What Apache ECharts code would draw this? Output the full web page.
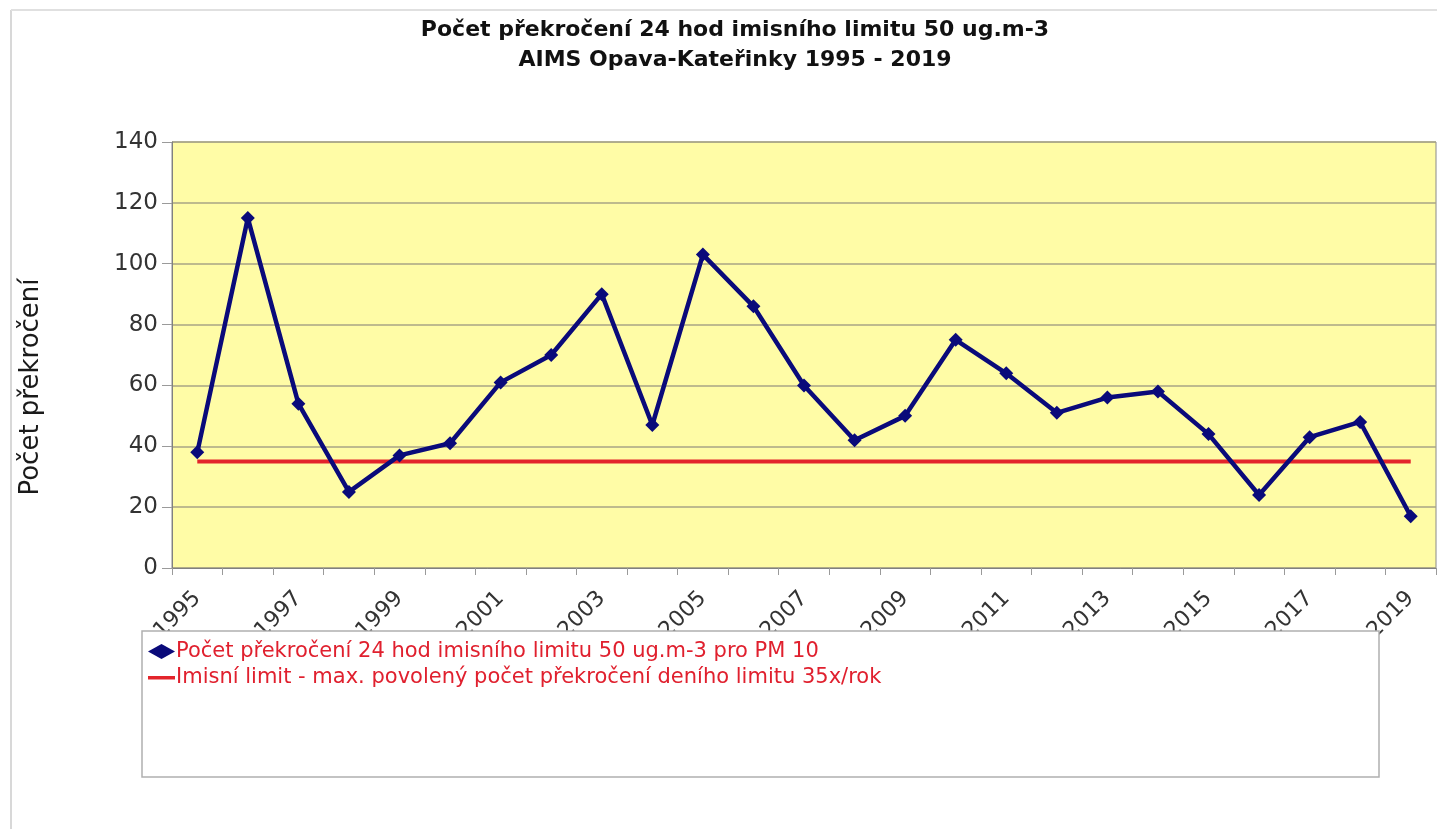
<!DOCTYPE html>
<html>
<head>
<meta charset="utf-8">
<script src="https://cdn.jsdelivr.net/npm/echarts@6/dist/echarts.min.js"></script>
<style>html,body{margin:0;padding:0;background:#fff}#c{width:1437px;height:829px}</style>
</head>
<body>
<div id="c"></div>
<script>
const titleText = 'Počet překročení 24 hod imisního limitu 50 ug.m-3\nAIMS Opava-Kateřinky 1995 - 2019';
const yAxisName = 'Počet překročení';
const years = ['1995','1996','1997','1998','1999','2000','2001','2002','2003','2004','2005','2006','2007','2008','2009','2010','2011','2012','2013','2014','2015','2016','2017','2018','2019'];
const exceedances = [38,115,54,25,37,41,61,70,90,47,103,86,60,42,50,75,64,51,56,58,44,24,43,48,17];
const limitValue = 35;
const limit = years.map(() => limitValue);
const seriesNames = ['Počet překročení 24 hod imisního limitu 50 ug.m-3 pro PM 10', 'Imisní limit - max. povolený počet překročení deního limitu 35x/rok'];

const chart = echarts.init(document.getElementById('c'));
const font = 'DejaVu Sans, Liberation Sans, Arial, sans-serif';
chart.setOption({
  animation: false,
  backgroundColor: '#fff',
  textStyle: { fontFamily: font },
  title: {
    text: titleText,
    left: 730, top: 10, textAlign: 'center',
    textStyle: { fontFamily: font, fontWeight: 'bold', fontSize: 22, lineHeight: 30, color: '#111' }
  },
  grid: { left: 172, right: 1, top: 142, bottom: 261, show: true, backgroundColor: '#fffca6', borderColor: '#8a8a8a', borderWidth: 1 },
  graphic: [
    { type: 'line', z: 1, shape: { x1: 11, y1: 10, x2: 11, y2: 829 }, style: { stroke: '#d8d8d8', lineWidth: 2 } },
    { type: 'line', z: 1, shape: { x1: 11, y1: 10, x2: 1437, y2: 10 }, style: { stroke: '#e0e0e0', lineWidth: 2 } },
    { type: 'rect', z: 50, shape: { x: 142, y: 631, width: 1237, height: 146 }, style: { fill: '#fff', stroke: '#b0b0b0', lineWidth: 1.5 } }
  ],
  legend: {
    z: 60,
    orient: 'vertical',
    left: 143, top: 636,
    itemWidth: 27, itemHeight: 15, itemGap: 5,
    textStyle: { color: '#e0202e', fontSize: 21, fontFamily: font, padding: [0,0,0,-4] },
    data: [
      { name: seriesNames[0], icon: 'diamond' },
      { name: seriesNames[1], icon: 'path://M0,0 L27,0 L27,0.001 Z M0,6 L27,6 L27,9.5 L0,9.5 Z M0,15 L27,15 L27,15.001 Z' }
    ]
  },
  xAxis: {
    type: 'category',
    data: years,
    boundaryGap: true,
    axisLine: { lineStyle: { color: '#808080' } },
    axisTick: { show: true, length: 7, interval: 0, lineStyle: { color: '#9a9a9a' } },
    axisLabel: { interval: 1, rotate: 45, margin: 27, fontSize: 22, color: '#333', fontFamily: font },
    splitLine: { show: false }
  },
  yAxis: {
    type: 'value', min: 0, max: 140, interval: 20,
    name: yAxisName, nameLocation: 'middle', nameRotate: 90, nameGap: 128,
    nameTextStyle: { fontSize: 26, color: '#1a1a1a', fontFamily: font, padding: [0, 64, 0, 0] },
    axisLine: { show: true, lineStyle: { color: '#808080' } },
    axisTick: { show: true, length: 10, lineStyle: { color: '#9a9a9a' } },
    axisLabel: { fontSize: 23, color: '#333', margin: 14, fontFamily: font },
    splitLine: { lineStyle: { color: '#a9a585', width: 1.5 } }
  },
  series: [
    {
      name: seriesNames[0], type: 'line', data: exceedances,
      symbol: 'diamond', symbolSize: 14, z: 4,
      lineStyle: { color: '#0a0a7a', width: 4.5 },
      itemStyle: { color: '#0a0a7a' }
    },
    {
      name: seriesNames[1], type: 'line', data: limit,
      symbol: 'none', z: 3,
      lineStyle: { color: '#e3242b', width: 4 },
      itemStyle: { color: '#e3242b' }
    }
  ]
});
</script>
</body>
</html>
